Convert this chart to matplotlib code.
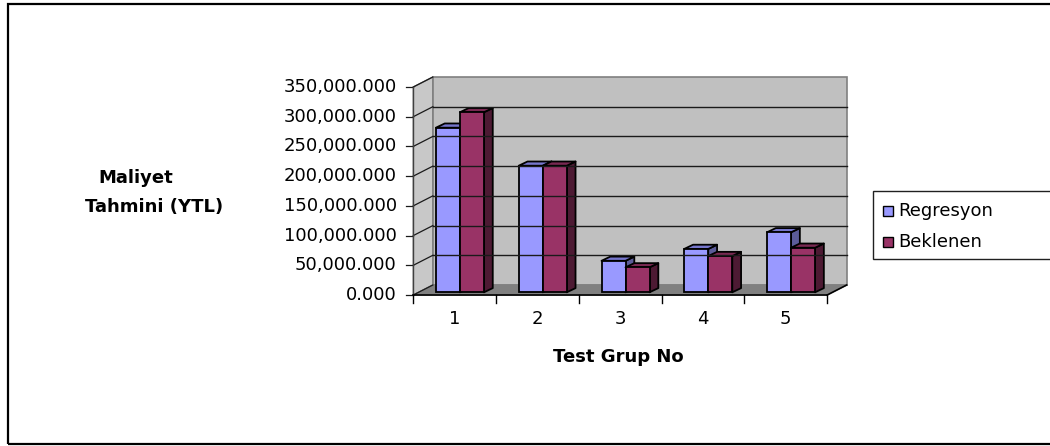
import numpy as np
import matplotlib
matplotlib.use('Agg')
import matplotlib.pyplot as plt
from matplotlib.patches import Polygon, Rectangle

# ---- data (values in YTL) ----
categories = ['1', '2', '3', '4', '5']
series_names = ['Regresyon', 'Beklenen']
regresyon = [277000, 213000, 53000, 73000, 101000]
beklenen = [303000, 213000, 42000, 61000, 75000]
y_ticks = np.arange(0, 350001, 50000)

# Excel-style 3D colours: front, top, side
FRONT = ['#9999ff', '#993366']
TOP = ['#7676cc', '#7a2952']
SIDE = ['#5c5c99', '#4d1a33']

plt.rcParams['font.family'] = ['DejaVu Sans']
FS = 13

W, H = 1050, 446
fig = plt.figure(figsize=(W / 100, H / 100), dpi=100)

Y_MAX = y_ticks[-1]
DX, DY = 0.236, 16800       # full depth of the 3D box (x in categories, y in value units)
BW = 0.29                   # bar width
GAP = (1 - 2 * BW) / 2
SX, SY = 0.27 * DX, 0.27 * DY    # bars sit a bit behind the front edge
BDX, BDY = 0.45 * DX, 0.42 * DY  # bar depth
n = len(categories)

ax = fig.add_axes([413.3 / W, 151 / H, 433.4 / W, 218 / H])
ax.set_xlim(0, n + DX)
ax.set_ylim(0, Y_MAX + DY)
ax.axis('off')

# walls and floor
ax.add_patch(Polygon([(0, 0), (DX, DY), (DX, Y_MAX + DY), (0, Y_MAX)],
                     fc='#c8c8c8', ec='#808080', lw=1, clip_on=False))
ax.add_patch(Rectangle((DX, DY), n, Y_MAX, fc='#c0c0c0', ec='#808080', lw=1.2, clip_on=False))
ax.add_patch(Polygon([(0, 0), (n, 0), (n + DX, DY), (DX, DY)],
                     fc='#808080', ec='#808080', lw=1, clip_on=False))

# gridlines on back wall and side wall, ticks and labels
for v in y_ticks:
    if 0 < v < Y_MAX:
        ax.plot([DX, n + DX], [v + DY, v + DY], color='#1a1a1a', lw=1, clip_on=False)
    ax.plot([0, DX], [v, v + DY], color='#1a1a1a', lw=0.9, clip_on=False)
    ax.plot([-0.085, 0], [v, v], color='#1a1a1a', lw=0.9, clip_on=False)
    ax.text(-0.2, v, f'{v:,.3f}', ha='right', va='center', fontsize=FS, clip_on=False)
ax.plot([0, 0], [0, Y_MAX], color='#404040', lw=1, clip_on=False)

# x axis along the front edge of the floor
ax.plot([0, n], [0, 0], color='black', lw=1.2, clip_on=False)
ax.plot([n, n + DX], [0, DY], color='black', lw=1.2, clip_on=False)
for i in range(n + 1):
    ax.plot([i, i], [0, -14000], color='black', lw=1, clip_on=False)
for i, c in enumerate(categories):
    ax.text(i + 0.5, -40400, c, ha='center', va='center', fontsize=FS, clip_on=False)

# 3D bars
for i in range(n):
    for j, vals in enumerate([regresyon, beklenen]):
        h = vals[i]
        left = i + GAP + SX + j * BW
        right = left + BW
        side = [(right, SY), (right + BDX, SY + BDY), (right + BDX, SY + h + BDY), (right, SY + h)]
        top = [(left, SY + h), (right, SY + h), (right + BDX, SY + h + BDY), (left + BDX, SY + h + BDY)]
        ax.add_patch(Polygon(side, fc=SIDE[j], ec='black', lw=1.3, joinstyle='round', clip_on=False))
        ax.add_patch(Polygon(top, fc=TOP[j], ec='black', lw=1.3, joinstyle='round', clip_on=False))
        ax.add_patch(Rectangle((left, SY), BW, h, fc=FRONT[j], ec='black', lw=1.3, clip_on=False))

# axis titles
fig.text(618.5 / W, 1 - 356.7 / H, 'Test Grup No', ha='center', va='center',
         fontsize=FS, fontweight='bold')
fig.text(136 / W, 1 - 178 / H, 'Maliyet', ha='center', va='center', fontsize=FS, fontweight='bold')
fig.text(154 / W, 1 - 207 / H, 'Tahmini (YTL)', ha='center', va='center', fontsize=FS, fontweight='bold')

# legend box drawn by hand so it runs to the edge like the original
fig.patches.append(Rectangle((873 / W, 1 - 259 / H), (1060 - 873) / W, 68 / H,
                             transform=fig.transFigure, fc='white', ec='#202020', lw=1))
for j, (name, y) in enumerate(zip(series_names, [211, 242])):
    fig.patches.append(Rectangle((883 / W, 1 - (y + 5) / H), 10 / W, 10 / H,
                                 transform=fig.transFigure, fc=FRONT[j], ec='black', lw=1))
    fig.text(898 / W, 1 - y / H, name, ha='left', va='center', fontsize=FS)

# chart border
fig.patches.append(Rectangle((8 / W, 2 / H), (1060 - 8) / W, (444 - 4) / H,
                             transform=fig.transFigure, fill=False, ec='black', lw=1.6))

fig.savefig('out.png', dpi=100)
